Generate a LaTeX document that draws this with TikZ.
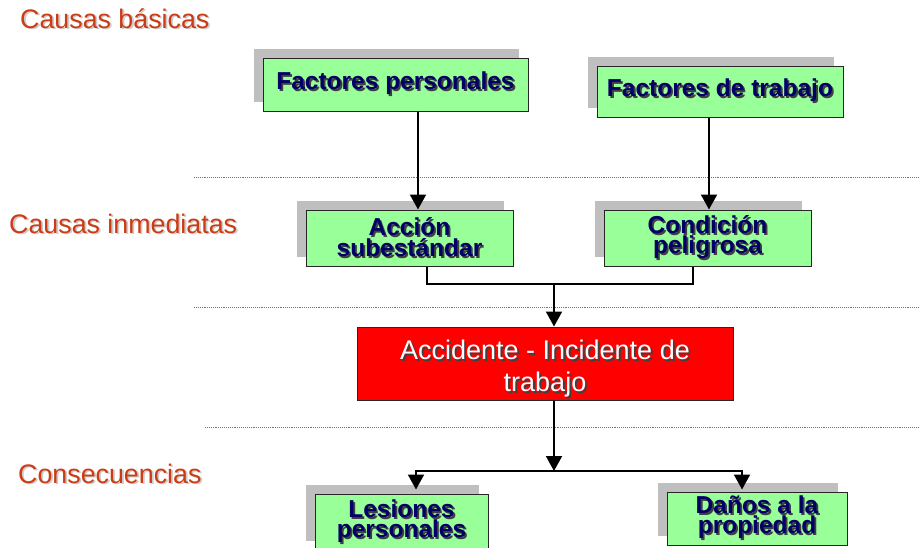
\documentclass[tikz,border=0pt]{standalone}
\usepackage{fontspec}
\setmainfont{Liberation Sans}
\usepackage{xcolor}
\usepackage{tikz}
\usetikzlibrary{positioning, arrows.meta, shadows}

\definecolor{boxgreen}{RGB}{153,255,153}
\definecolor{shadowgray}{RGB}{191,191,191}
\definecolor{navy}{RGB}{0,0,102}
\definecolor{levelred}{RGB}{204,60,20}
\newcommand{\drop}[2]{\leavevmode\rlap{\kern1.8pt\raisebox{-1.8pt}{\color{#1}#2}}#2}

\begin{document}
\begin{tikzpicture}[x=1pt, y=-1pt,
  gbox/.style={draw=black!85, line width=1pt, fill=boxgreen, text=navy, align=center,
               font=\bfseries\fontsize{24.5}{20}\selectfont, inner sep=0pt,
               general shadow={fill=shadowgray, shadow xshift=-9pt, shadow yshift=9pt}},
  redbox/.style={draw=black!85, line width=1pt, fill=red, text=white, align=center,
                 font=\fontsize{27}{32}\selectfont, inner sep=0pt},
  level/.style={anchor=base west, text=levelred, font=\fontsize{26.8}{30}\selectfont, inner sep=0pt},
  arr/.style={-{Triangle[width=16pt,length=15pt]}, line width=2pt},
  link/.style={line width=2pt},
  sep/.style={densely dotted, draw=black!55, line width=0.9pt}]
  \useasboundingbox (0,0) rectangle (919,547);
  \clip (0,0) rectangle (919,547);
  % levels
  \node[level] (basicas) at (20,28) {\drop{black!20}{Causas básicas}};
  \node[level] (inmediatas) at (9,233) {\drop{black!20}{Causas inmediatas}};
  \node[level] (consecuencias) at (18,483) {\drop{black!20}{Consecuencias}};
  \draw[sep] (194,177) -- (919,177);
  \draw[sep] (194,307) -- (919,307);
  \draw[sep] (205,427) -- (919,427);
  % boxes
  \node[gbox, minimum width=265pt, minimum height=53pt] (personales) at (395.5,84.5) {\drop{black!75}{Factores personales}};
  \node[gbox, minimum width=246pt, minimum height=51pt] (trabajo) at (720,91.5) {\drop{black!75}{Factores de trabajo}};
  \node[gbox, minimum width=207pt, minimum height=56pt] (accion) at (409.5,238) {\drop{black!75}{Acción}\\\drop{black!75}{subestándar}};
  \node[gbox, minimum width=207pt, minimum height=56pt] (condicion) at (707.5,238) {\drop{black!75}{Condición}\\\drop{black!75}{peligrosa}};
  \node[redbox, minimum width=376pt, minimum height=73pt] (incidente) at (545,363.5) {\rule{0pt}{31pt}\drop{black!75}{Accidente - Incidente de}\\\drop{black!75}{trabajo}};
  \node[gbox, minimum width=173pt, minimum height=56pt] (lesiones) at (401.5,522) {\drop{black!75}{Lesiones}\\\drop{black!75}{personales}};
  \node[gbox, minimum width=180pt, minimum height=53pt] (danos) at (757,518.5) {\drop{black!75}{Daños a la}\\\drop{black!75}{propiedad}};
  % connectors
  \coordinate (j1) at (554,284);
  \coordinate (j2) at (554,471);
  \draw[arr] ([xshift=22.5pt]personales.south) -- ([xshift=8.5pt]accion.north);
  \draw[arr] ([xshift=-11pt]trabajo.south) -- ([xshift=1.5pt]condicion.north);
  \draw[link] ([xshift=17.5pt]accion.south) |- (j1) -| ([xshift=-14.5pt]condicion.south);
  \draw[arr] (j1) -- (incidente.north -| j1);
  \draw[arr] (incidente.south -| j1) -- (j2);
  \draw[arr] (j2) -| ([xshift=14.5pt, yshift=4pt]lesiones.north);
  \draw[arr] (j2) -| ([xshift=-15pt, yshift=2pt]danos.north);
\end{tikzpicture}
\end{document}
